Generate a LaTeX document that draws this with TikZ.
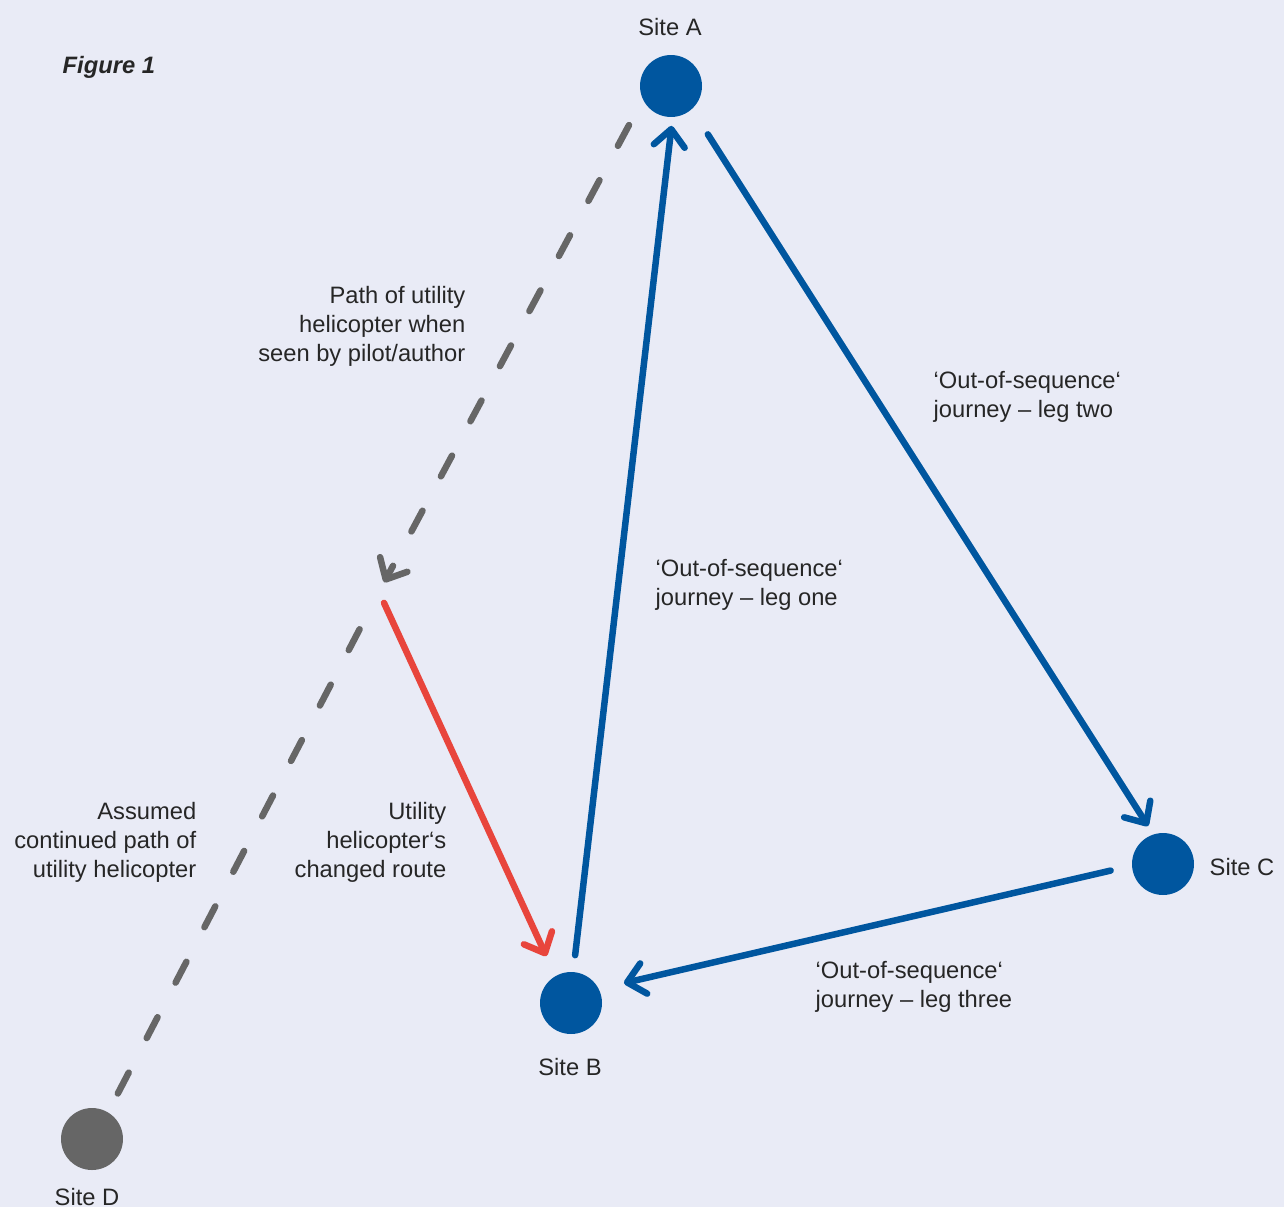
\documentclass[tikz,border=0pt]{standalone}
\usepackage{fontspec}
\setmainfont{Liberation Sans}
\usetikzlibrary{arrows.meta}
\definecolor{bg}{HTML}{E9EBF6}
\definecolor{siteblue}{HTML}{00569F}
\definecolor{pathgrey}{HTML}{666666}
\definecolor{routered}{HTML}{E8453C}

\begin{document}
\begin{tikzpicture}[x=0.02cm, y=-0.02cm, thick,
        font=\fontsize{13.5}{16.5}\selectfont,
        main/.style = {circle, fill=siteblue, minimum size=1.24cm, inner sep=0pt, outer sep=0pt},
        txt/.style = {inner sep=0pt, text=black!85},
        tip/.style = {-{Straight Barb[length=3.4mm,width=6.2mm,round]}},
        leg/.style = {line width=1.3mm, line cap=round, siteblue, tip},
        seen/.style = {line width=1.3mm, line cap=round, pathgrey, dash pattern=on 0.47cm off 0.78cm}]
    \fill[bg] (0,0) rectangle (1284,1207);
    \useasboundingbox (0,0) rectangle (1284,1207);

        \node[main] (A) at (671,86) {};
        \node[main] (B) at (571,1003) {};
        \node[main] (C) at (1163,864) {};
        \node[main, fill=pathgrey] (D) at (92,1139) {};
        \coordinate (E) at (379,592);

        \node[txt] (a) at (670,27) {Site A};
        \node[txt] (b) at (570,1067) {Site B};
        \node[txt, anchor=west] (c) at (1209,867) {Site C};
        \node[txt] (d) at (87,1197) {Site D};
        \node[txt, anchor=west, font=\fontsize{13.5}{16.5}\selectfont\bfseries\itshape] (fig) at (62,67) {Figure 1};

        \node[txt, anchor=east, align=right] (p1) at (466,326) {Path of utility\\helicopter when\\seen by pilot/author};
        \node[txt, anchor=east, align=right] (p2) at (197,842) {Assumed\\continued path of\\utility helicopter};
        \node[txt, anchor=east, align=right] (p3) at (447,842) {Utility\\helicopter‘s\\changed route};
        \node[txt, anchor=west, align=left] (l1) at (655,585) {‘Out-of-sequence‘\\journey – leg one};
        \node[txt, anchor=west, align=left] (l2) at (933,397) {‘Out-of-sequence‘\\journey – leg two};
        \node[txt, anchor=west, align=left] (l3) at (815,987) {‘Out-of-sequence‘\\journey – leg three};

        \draw[leg, shorten <=0.34cm, shorten >=0.18cm] (B.86) -- (A.-87);
        \draw[leg, shorten <=0.6cm, shorten >=0.2cm] (A.-48) -- (C.108);
        \draw[leg, shorten <=0.44cm, shorten >=0.52cm] (C.183) -- (B.27);
        \draw[seen, tip, shorten <=0.59cm, shorten >=0.22cm] (A.-155) -- (E);
        \draw[seen, shorten <=0.84cm, shorten >=0.26cm] (E) -- (D.59);
        \draw[line width=1.3mm, line cap=round, routered, tip, shorten <=0.24cm, shorten >=0.44cm] (E) -- (B.120);

    \end{tikzpicture}
\end{document}
